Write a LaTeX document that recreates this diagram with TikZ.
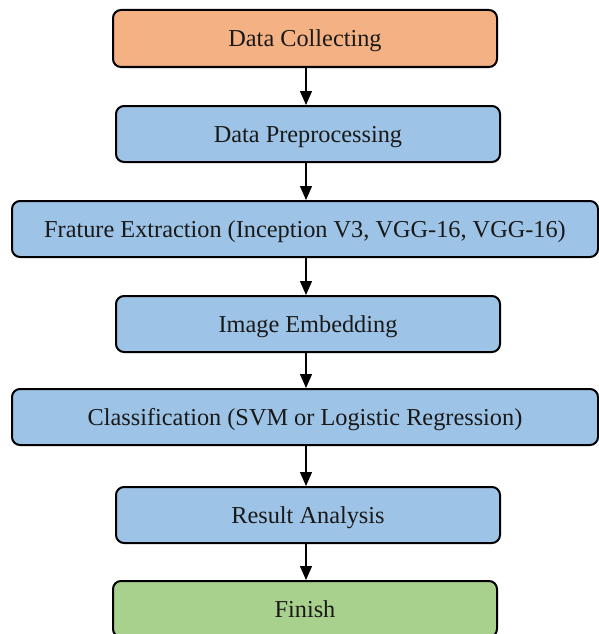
\documentclass[tikz,border=0pt]{standalone}
\usepackage{fontspec}
\setmainfont{Liberation Serif}
\usetikzlibrary{arrows.meta}
\definecolor{orangefill}{HTML}{F4B183}
\definecolor{bluefill}{HTML}{9DC3E6}
\definecolor{greenfill}{HTML}{A9D18E}
\begin{document}
\begin{tikzpicture}[x=1pt,y=-1pt,
  box/.style={draw=black, line width=2pt, rounded corners=8pt, inner sep=0pt,
    font=\fontsize{24.3}{28}\selectfont, text=black!90, text height=20pt, text depth=4pt},
  narrowbox/.style={box, minimum width=384pt, minimum height=56pt},
  widebox/.style={box, minimum width=586pt, minimum height=56pt},
  arr/.style={line width=1.3pt, -{Triangle[width=12pt,length=14pt]}}]
\useasboundingbox (0,0) rectangle (599,634);
\node[narrowbox, fill=orangefill, minimum height=57pt] (b1) at (305,38.5) {Data Collecting};
\node[narrowbox, fill=bluefill] (b2) at (308,134) {Data Preprocessing};
\node[widebox, fill=bluefill] (b3) at (305,229) {Frature Extraction (Inception V3, VGG-16, VGG-16)};
\node[narrowbox, fill=bluefill] (b4) at (308,324) {Image Embedding};
\node[widebox, fill=bluefill] (b5) at (305,417) {Classification (SVM or Logistic Regression)};
\node[narrowbox, fill=bluefill] (b6) at (308,515) {Result Analysis};
\node[narrowbox, fill=greenfill] (b7) at (305,609) {Finish};
\coordinate (ax) at (306,0);
\draw[arr] (b1.south -| ax) -- (b2.north -| ax);
\draw[arr] (b2.south -| ax) -- (b3.north -| ax);
\draw[arr] (b3.south -| ax) -- (b4.north -| ax);
\draw[arr] (b4.south -| ax) -- (b5.north -| ax);
\draw[arr] (b5.south -| ax) -- (b6.north -| ax);
\draw[arr] (b6.south -| ax) -- (b7.north -| ax);
\end{tikzpicture}
\end{document}
